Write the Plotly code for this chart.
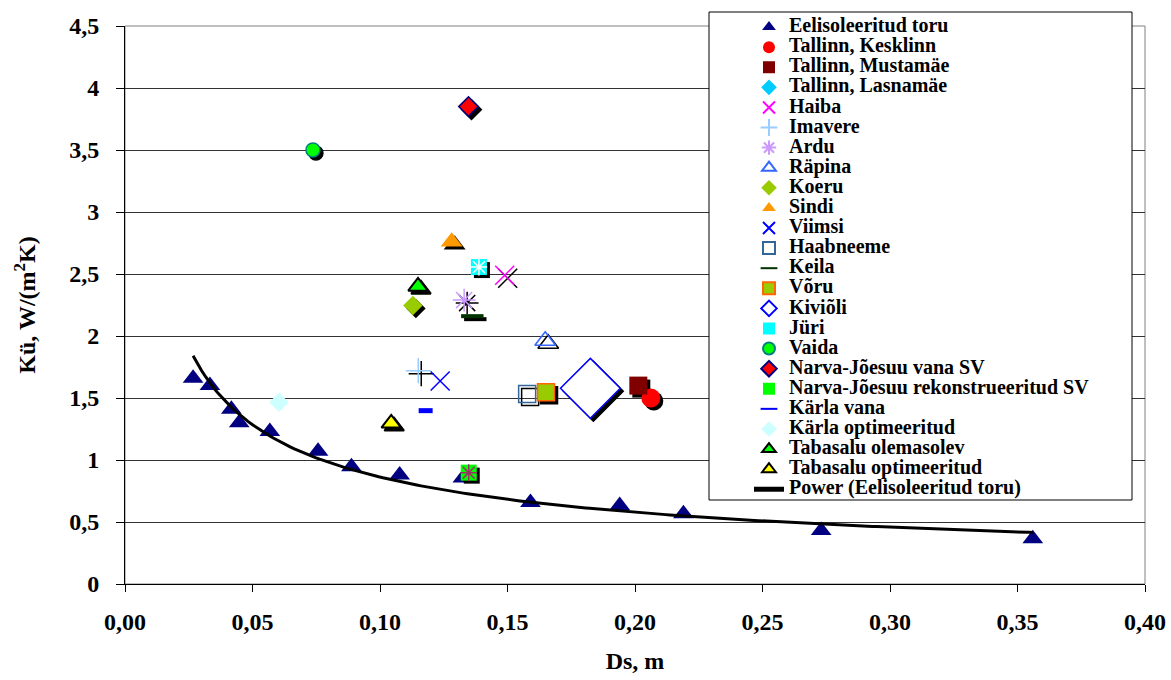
import numpy as np
import plotly.graph_objects as go

# ---------------- data ----------------
pipe_name = "Eelisoleeritud toru"
pipe_ds = [0.0267, 0.0333, 0.0417, 0.0448, 0.0568, 0.0757, 0.0888, 0.1077,
           0.1325, 0.159, 0.194, 0.219, 0.273, 0.356]
pipe_ku = [1.66, 1.60, 1.41, 1.30, 1.23, 1.07, 0.946, 0.88,
           0.855, 0.657, 0.633, 0.566, 0.431, 0.364]

site_names = ["Tallinn, Kesklinn", "Tallinn, Mustamäe", "Tallinn, Lasnamäe", "Haiba",
              "Imavere", "Ardu", "Räpina", "Koeru", "Sindi", "Viimsi", "Haabneeme",
              "Keila", "Võru", "Kiviõli", "Jüri", "Vaida", "Narva-Jõesuu vana SV",
              "Narva-Jõesuu rekonstrueeritud SV", "Kärla vana", "Kärla optimeeritud",
              "Tabasalu olemasolev", "Tabasalu optimeeritud"]
site_ds = [0.2062, 0.2013, None, 0.1489, 0.1150, 0.1330, 0.1648, 0.1129, 0.1281, 0.1236,
           0.1577, 0.1362, 0.1651, 0.1825, 0.1388, 0.0737, 0.1347, 0.1348, 0.1179,
           0.0604, 0.1149, 0.1044]
site_ku = [1.50, 1.60, None, 2.49, 1.72, 2.29, 1.962, 2.245, 2.76, 1.637, 1.532, 2.16,
           1.546, 1.578, 2.556, 3.50, 3.85, 0.898, 1.398, 1.465, 2.40, 1.296]

trend_name = "Power (Eelisoleeritud toru)"

x_ticks = [0.0, 0.05, 0.10, 0.15, 0.20, 0.25, 0.30, 0.35, 0.40]
x_ticklabels = ["0,00", "0,05", "0,10", "0,15", "0,20", "0,25", "0,30", "0,35", "0,40"]
y_ticks = [0, 0.5, 1, 1.5, 2, 2.5, 3, 3.5, 4, 4.5]
y_ticklabels = ["0", "0,5", "1", "1,5", "2", "2,5", "3", "3,5", "4", "4,5"]

x_title = "Ds, m"
y_title = "Kü, W/(m<sup>2</sup>K)"

# ---------------- styles ----------------
# symbol, size, fill, line colour, line width, has shadow, overlay(symbol, colour, size)
styles = {
    "Eelisoleeritud toru": ("triangle-up", 18, "#000080", "#000080", 0, False, None),
    "Tallinn, Kesklinn": ("circle", 19, "#ff0000", "#ff0000", 0, True, None),
    "Tallinn, Mustamäe": ("square", 18, "#800000", "#800000", 0, True, None),
    "Tallinn, Lasnamäe": ("diamond", 15, "#00ccff", "#00ccff", 0, True, None),
    "Haiba": ("x-thin-open", 19, "#ff00ff", "#ff00ff", 1.5, True, None),
    "Imavere": ("cross-thin-open", 18, "#99ccff", "#99ccff", 1.5, True, None),
    "Ardu": ("asterisk-open", 19, "#cc99ff", "#cc99ff", 1.5, True, None),
    "Räpina": ("triangle-up-open", 18, "#3366ff", "#3366ff", 1.5, True, None),
    "Koeru": ("diamond", 15, "#99cc00", "#99cc00", 0, True, None),
    "Sindi": ("triangle-up", 19, "#ff9900", "#ff9900", 0, True, None),
    "Viimsi": ("x-thin-open", 19, "#0000ff", "#0000ff", 1.5, False, None),
    "Haabneeme": ("square-open", 17, "#336699", "#336699", 1.5, True, None),
    "Keila": ("line-ew-open", 16, "#003300", "#003300", 4, True, None),
    "Võru": ("square", 17, "#99cc00", "#ff6600", 1.5, True, None),
    "Kiviõli": ("diamond", 46, "#ffffff", "#0000ff", 1.5, True, None),
    "Jüri": ("square", 16, "#00ffff", "#00ffff", 0, True, ("asterisk-open", "#ffffff", 14)),
    "Vaida": ("circle", 14, "#00ff00", "#008080", 1.5, True, None),
    "Narva-Jõesuu vana SV": ("diamond", 15, "#ff0000", "#000080", 1.5, True, None),
    "Narva-Jõesuu rekonstrueeritud SV": ("square", 16, "#00ff00", "#00ff00", 0, True,
                                         ("asterisk-open", "#993366", 14)),
    "Kärla vana": ("line-ew-open", 10, "#0000ff", "#0000ff", 5, False, None),
    "Kärla optimeeritud": ("diamond", 15, "#ccffff", "#ccffff", 0, False, None),
    "Tabasalu olemasolev": ("triangle-up", 17, "#00ff00", "#000000", 2, True, None),
    "Tabasalu optimeeritud": ("triangle-up", 17, "#ffff00", "#000000", 2, True, None),
}

FONT = "Liberation Serif"
W, H = 1171, 680
L, R, T, B = 125, 23, 12, 93
PW = W - L - R   # 1023
PH = H - T - B   # 575
SH = 3           # shadow offset px
TOP = 26         # px where the axes start (plot top)

main_xdom = [0, (PW - SH) / PW]
main_ydom = [SH / PH, (H - B - TOP) / PH]
sh_xdom = [SH / PW, 1]
sh_ydom = [0, (H - B - TOP - SH) / PH]

fig = go.Figure()


def is_open(sym):
    return sym.endswith("-open")


def leg(name):
    return f'<span style="font-size:20px">{name}</span>'


# ---- pipe series (subplot 1, beneath everything) ----
sym, size, fill, lc, lw, shadow, ov = styles[pipe_name]
fig.add_trace(go.Scatter(
    x=pipe_ds, y=pipe_ku, mode="markers", name=leg(pipe_name), xaxis="x", yaxis="y",
    marker=dict(symbol=sym, size=size, color=fill, line=dict(color=lc, width=lw))))

# ---- shadows (subplot 2, offset by a few px) ----
for name, xv, yv in zip(site_names, site_ds, site_ku):
    sym, size, fill, lc, lw, shadow, ov = styles[name]
    if not shadow or xv is None:
        continue
    fig.add_trace(go.Scatter(
        x=[xv], y=[yv], mode="markers", xaxis="x2", yaxis="y2", showlegend=False,
        hoverinfo="skip",
        marker=dict(symbol=sym, size=size, color="#000000",
                    line=dict(color="#000000", width=lw))))

# ---- site markers (subplot 3, on top) ----
for name, xv, yv in zip(site_names, site_ds, site_ku):
    sym, size, fill, lc, lw, shadow, ov = styles[name]
    fig.add_trace(go.Scatter(
        x=[xv], y=[yv], mode="markers", name=leg(name), xaxis="x3", yaxis="y3",
        marker=dict(symbol=sym, size=size, color=fill if not is_open(sym) else lc,
                    line=dict(color=lc, width=lw))))
    if ov is not None and xv is not None:
        fig.add_trace(go.Scatter(
            x=[xv], y=[yv], mode="markers", xaxis="x3", yaxis="y3", showlegend=False,
            hoverinfo="skip",
            marker=dict(symbol=ov[0], size=ov[2], color=ov[1],
                        line=dict(color=ov[1], width=1.5))))

# ---- power trendline fitted to the pipe series ----
b_exp, ln_a = np.polyfit(np.log(pipe_ds), np.log(pipe_ku), 1)
tx = np.linspace(min(pipe_ds), max(pipe_ds), 200)
ty = np.exp(ln_a) * tx ** b_exp
fig.add_trace(go.Scatter(
    x=tx, y=ty, mode="lines", name=leg(trend_name), xaxis="x", yaxis="y",
    hoverinfo="skip", line=dict(color="#000000", width=3)))

tickfont = dict(family=FONT, size=24, color="#000000", weight="bold")
titlefont = dict(family=FONT, size=24, color="#000000", weight="bold")

fig.update_layout(
    width=W, height=H,
    margin=dict(l=L, r=R, t=T, b=B, autoexpand=False),
    paper_bgcolor="white", plot_bgcolor="rgba(0,0,0,0)",
    font=dict(family=FONT, color="#000000"),
    showlegend=True,
    legend=dict(
        x=(749 - L) / PW, xanchor="left",
        y=1, yanchor="top",
        bgcolor="rgba(0,0,0,0)", borderwidth=0,
        font=dict(family=FONT, size=13.15, color="#000000", weight="bold"),
        itemsizing="constant", tracegroupgap=0,
    ),
    xaxis=dict(
        domain=main_xdom, anchor="y", range=[0, 0.4], automargin=False,
        tickmode="array", tickvals=x_ticks, ticktext=x_ticklabels,
        ticks="outside", ticklen=7, tickcolor="#000000", tickwidth=1,
        showline=True, linecolor="#000000", linewidth=1,
        showgrid=False, zeroline=False, tickfont=tickfont,
        ticklabelstandoff=9,
        title=dict(text=x_title, font=titlefont, standoff=18),
    ),
    yaxis=dict(
        domain=main_ydom, anchor="x", range=[0, 4.5], automargin=False,
        tickmode="array", tickvals=y_ticks, ticktext=y_ticklabels,
        ticks="outside", ticklen=8, tickcolor="#000000", tickwidth=1,
        showline=True, linecolor="#000000", linewidth=1,
        showgrid=True, gridcolor="#333333", gridwidth=1, zeroline=False,
        tickfont=tickfont, ticklabelstandoff=12,
        title=dict(text=y_title, font=titlefont, standoff=26),
    ),
    xaxis2=dict(domain=sh_xdom, anchor="y2", range=[0, 0.4], visible=False),
    yaxis2=dict(domain=sh_ydom, anchor="x2", range=[0, 4.5], visible=False),
    xaxis3=dict(domain=main_xdom, anchor="y3", range=[0, 0.4], visible=False),
    yaxis3=dict(domain=main_ydom, anchor="x3", range=[0, 4.5], visible=False),
    shapes=[
        dict(type="rect", xref="x domain", yref="y domain", x0=0, x1=1, y0=0, y1=1,
             line=dict(color="#808080", width=1), layer="below"),
        dict(type="rect", xref="paper", yref="paper",
             x0=(709 - L) / PW, x1=(1132 - L) / PW,
             y0=(H - B - 500) / PH, y1=(H - B - 12) / PH,
             line=dict(color="#000000", width=1), fillcolor="white", layer="above"),
    ],
)

fig.write_html("out.html", config={"displayModeBar": False},
               post_script="document.body.style.margin='0';")
